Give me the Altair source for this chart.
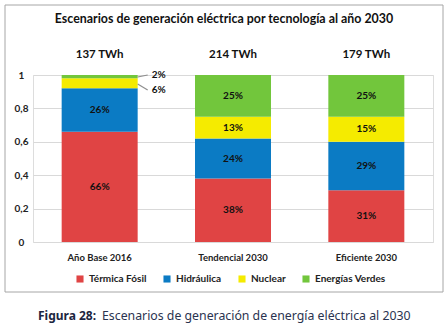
import altair as alt
import pandas as pd

categories = ["Año Base 2016", "Tendencial 2030", "Eficiente 2030"]
totals = ["137 TWh", "214 TWh", "179 TWh"]
series = ["Térmica Fósil", "Hidráulica", "Nuclear", "Energías Verdes"]
colors = ["#E04444", "#0B7BC4", "#F5EB00", "#72C63C"]
termica = [0.66, 0.38, 0.31]
hidraulica = [0.26, 0.24, 0.29]
nuclear = [0.06, 0.13, 0.15]
verdes = [0.02, 0.25, 0.25]
# outside labels of first bar: (series, line start y, label y)
outside = [("Energías Verdes", 0.988, 1.0), ("Nuclear", 0.946, 0.91)]

title = "Escenarios de generación eléctrica por tecnología al año 2030"
caption_bold = "Figura 28:"
caption_rest = "Escenarios de generación de energía eléctrica al 2030"

FONT = "Lato"

rows = []
vals = [termica, hidraulica, nuclear, verdes]
for ci, c in enumerate(categories):
    cum = 0.0
    for si, s in enumerate(series):
        v = vals[si][ci]
        rows.append({"cat": c, "series": s, "order": si, "value": v,
                     "y0": cum, "y1": cum + v, "mid": cum + v / 2,
                     "label": f"{round(v*100)}%"})
        cum += v
df = pd.DataFrame(rows)
inside = df[df["value"] >= 0.1]

out_rows = []
for s, ys, yl in outside:
    v = df[(df["cat"] == categories[0]) & (df["series"] == s)]["value"].iloc[0]
    out_rows.append({"cat": categories[0], "series": s, "ys": ys, "yl": yl,
                     "label": f"{round(v*100)}%"})
out_df = pd.DataFrame(out_rows)

tot_df = pd.DataFrame({"cat": categories, "total": totals})

xscale = alt.Scale(domain=categories, paddingInner=0, paddingOuter=0)
yscale = alt.Scale(domain=[0, 1], nice=False)

x_enc = alt.X("cat:N", scale=xscale, sort=categories, title=None,
              axis=alt.Axis(labelAngle=0, ticks=False, tickSize=0, domain=False,
                            labelPadding=10, labelFont=FONT, labelFontWeight="bold",
                            labelFontSize=9.5, labelColor="#222"))
x_plain = alt.X("cat:N", scale=xscale, sort=categories, title=None)
y_axis = alt.Axis(values=[0, 0.2, 0.4, 0.6, 0.8, 1], ticks=False, tickSize=0,
                  domain=False, labelPadding=12, labelAlign="center",
                  labelOverlap=False,
                  labelExpr="replace(format(datum.value, '.1~f'), '.', ',')",
                  labelFont=FONT, labelFontWeight="bold", labelFontSize=10,
                  labelColor="#222", gridColor="#d9d9d9")

bars = alt.Chart(df).mark_bar(size=76).encode(
    x=x_enc,
    y=alt.Y("y0:Q", scale=yscale, title=None, axis=y_axis),
    y2="y1:Q",
    color=alt.Color("series:N", scale=alt.Scale(domain=series, range=colors), title=None,
                    legend=alt.Legend(orient="none", direction="horizontal",
                                      legendX=42, legendY=199, symbolType="square",
                                      symbolSize=50, symbolStrokeWidth=0,
                                      labelFont=FONT, labelFontWeight="bold",
                                      labelFontSize=10, labelColor="#222",
                                      labelOffset=4, columnPadding=15)),
    order="order:Q",
)

in_text = alt.Chart(inside).mark_text(font=FONT, fontWeight="bold", fontSize=10,
                                      color="#111").encode(
    x=x_plain,
    y=alt.Y("mid:Q", scale=yscale, axis=y_axis),
    text="label:N",
)

out_text = alt.Chart(out_df).mark_text(font=FONT, fontWeight="bold", fontSize=10,
                                       color="#111", align="left", dx=52).encode(
    x=x_plain,
    y=alt.Y("yl:Q", scale=yscale, axis=y_axis),
    text="label:N",
)

# leader lines from the bar's right edge to the outside labels
leaders = alt.Chart(out_df).mark_rule(strokeWidth=1.2,
                                      xOffset=38, x2Offset=48).encode(
    x=x_plain,
    x2="cat:N",
    y=alt.Y("ys:Q", scale=yscale, axis=y_axis),
    y2="yl:Q",
    color=alt.value("#8f8f8f"),
)

tot_text = alt.Chart(tot_df).mark_text(font=FONT, fontWeight="bold", fontSize=11.5,
                                       color="#111").encode(
    x=x_plain,
    y=alt.value(-20),
    text="total:N",
)

one = pd.DataFrame({"t": [title], "cb": [caption_bold], "cr": [caption_rest]})

title_text = alt.Chart(one).mark_text(font=FONT, fontWeight="bold", fontSize=12.4,
                                      color="#111").encode(
    x=alt.value(191), y=alt.value(-56), text="t:N")

border = alt.Chart(one).mark_rect(fill=None, stroke="#a6a6a6", strokeWidth=1).encode(
    x=alt.value(-28), x2=alt.value(410), y=alt.value(-70), y2=alt.value(217))

cap1 = alt.Chart(one).mark_text(font="Noto Sans", fontWeight="bold", fontSize=12,
                                color="#1c2540", align="left").encode(
    x=alt.value(5), y=alt.value(241), text="cb:N")
cap2 = alt.Chart(one).mark_text(font="Noto Sans", fontSize=12.3,
                                color="#2a3350", align="left").encode(
    x=alt.value(69), y=alt.value(241), text="cr:N")

chart = alt.layer(bars, in_text, out_text, leaders, tot_text, title_text, border,
                  cap1, cap2).properties(
    width=400, height=167,
    autosize=alt.AutoSizeParams(type="none"),
    padding={"left": 33, "top": 75, "right": 15, "bottom": 86},
).configure_view(stroke=None).configure(background="white").configure_axisY(
    labelOverlap=False
)

chart.save("out.html", embed_options={"renderer": "svg", "actions": False})
